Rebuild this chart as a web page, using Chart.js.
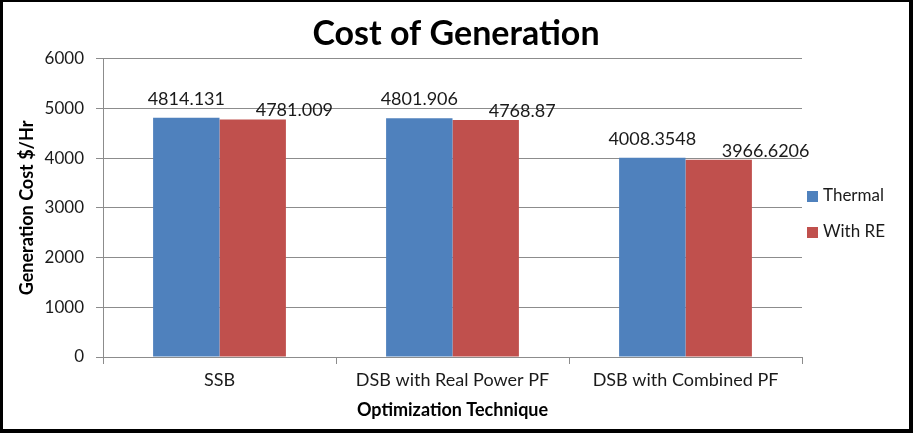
<!DOCTYPE html>
<html>
<head>
<meta charset="utf-8">
<script src="https://cdn.jsdelivr.net/npm/chart.js@4.4.1/dist/chart.umd.min.js"></script>
<style>
  html, body { margin: 0; padding: 0; background: #fff; }
  #frame {
    position: absolute; left: 0; top: 0;
    width: 906px; height: 427px;
    border-style: solid; border-color: #000;
    border-width: 2px 4px 4px 3px;
  }
  canvas { display: block; }
</style>
</head>
<body>
<div id="frame"><canvas id="cost" width="906" height="427"></canvas></div>
<script>
const categories = ['SSB', 'DSB with Real Power PF', 'DSB with Combined PF'];
const thermal = [4814.131, 4801.906, 4008.3548];
const withRE = [4781.009, 4768.87, 3966.6206];
const seriesNames = ['Thermal', 'With RE'];
const yTicks = [0, 1000, 2000, 3000, 4000, 5000, 6000];

const FONT = 'Lato, "Open Sans", sans-serif';
const TEXT = '#1a1a1a';

// value labels above bars, red ones nudged right like the original
const valueLabels = {
  id: 'valueLabels',
  afterDatasetsDraw(chart) {
    const ctx = chart.ctx;
    ctx.save();
    ctx.font = '18px ' + FONT;
    ctx.fillStyle = TEXT;
    ctx.textBaseline = 'bottom';
    chart.data.datasets.forEach((ds, i) => {
      chart.getDatasetMeta(i).data.forEach((bar, j) => {
        const txt = String(ds.data[j]);
        if (i === 0) {
          ctx.textAlign = 'center';
          ctx.fillText(txt, bar.x, bar.y - 10);
        } else {
          ctx.textAlign = 'left';
          ctx.fillText(txt, bar.x + 3, bar.y);
        }
      });
    });
    ctx.restore();
  }
};

// legend drawn in the strip right of the plot
const sideLegend = {
  id: 'sideLegend',
  afterDraw(chart) {
    const ctx = chart.ctx;
    const a = chart.chartArea;
    ctx.save();
    ctx.font = '17px ' + FONT;
    ctx.textBaseline = 'middle';
    ctx.textAlign = 'left';
    chart.data.datasets.forEach((ds, i) => {
      const y = 194 + i * 36;
      ctx.fillStyle = ds.backgroundColor;
      ctx.fillRect(a.right + 5, y - 5, 11, 11);
      ctx.fillStyle = TEXT;
      ctx.fillText(ds.label, a.right + 21, y);
    });
    ctx.restore();
  }
};

new Chart(document.getElementById('cost'), {
  type: 'bar',
  data: {
    labels: categories,
    datasets: [
      { label: seriesNames[0], data: thermal, backgroundColor: '#4F81BD' },
      { label: seriesNames[1], data: withRE, backgroundColor: '#C0504D' }
    ]
  },
  options: {
    responsive: false,
    animation: false,
    datasets: { bar: { categoryPercentage: 0.57, barPercentage: 1.0, borderWidth: 0 } },
    plugins: {
      legend: { display: false },
      tooltip: { enabled: false },
      title: {
        display: true,
        text: 'Cost of Generation',
        color: '#000',
        font: { family: FONT, size: 34, weight: 'bold' },
        padding: { top: 12, bottom: 4 }
      }
    },
    scales: {
      x: {
        grid: { drawOnChartArea: false, tickLength: 7, color: '#8c8c8c' },
        border: { color: '#8c8c8c' },
        ticks: { color: TEXT, font: { family: FONT, size: 18 }, padding: 5, maxRotation: 0 },
        title: {
          display: true, text: 'Optimization Technique', color: '#000',
          font: { family: FONT, size: 18, weight: 'bold' },
          padding: { top: 0, bottom: 8 }
        },
        afterFit(s) { s.height = 72; }
      },
      y: {
        min: 0, max: 6000,
        afterBuildTicks(s) { s.ticks = yTicks.map(v => ({ value: v })); },
        grid: { tickLength: 7, color: '#8c8c8c' },
        border: { color: '#8c8c8c' },
        ticks: { color: TEXT, font: { family: FONT, size: 17 }, padding: 12, callback: v => String(v) },
        title: {
          display: true, text: 'Generation Cost $/Hr', color: '#000',
          font: { family: FONT, size: 18, weight: 'bold' },
          padding: { top: 13, bottom: 0 }
        },
        afterFit(s) { s.width = 100; }
      },
      // empty right axis: reserves the legend strip without shifting the title
      side: {
        position: 'right',
        grid: { display: false },
        border: { display: false },
        ticks: { display: false },
        afterFit(s) { s.width = 107; }
      }
    }
  },
  plugins: [valueLabels, sideLegend]
});
</script>
</body>
</html>
